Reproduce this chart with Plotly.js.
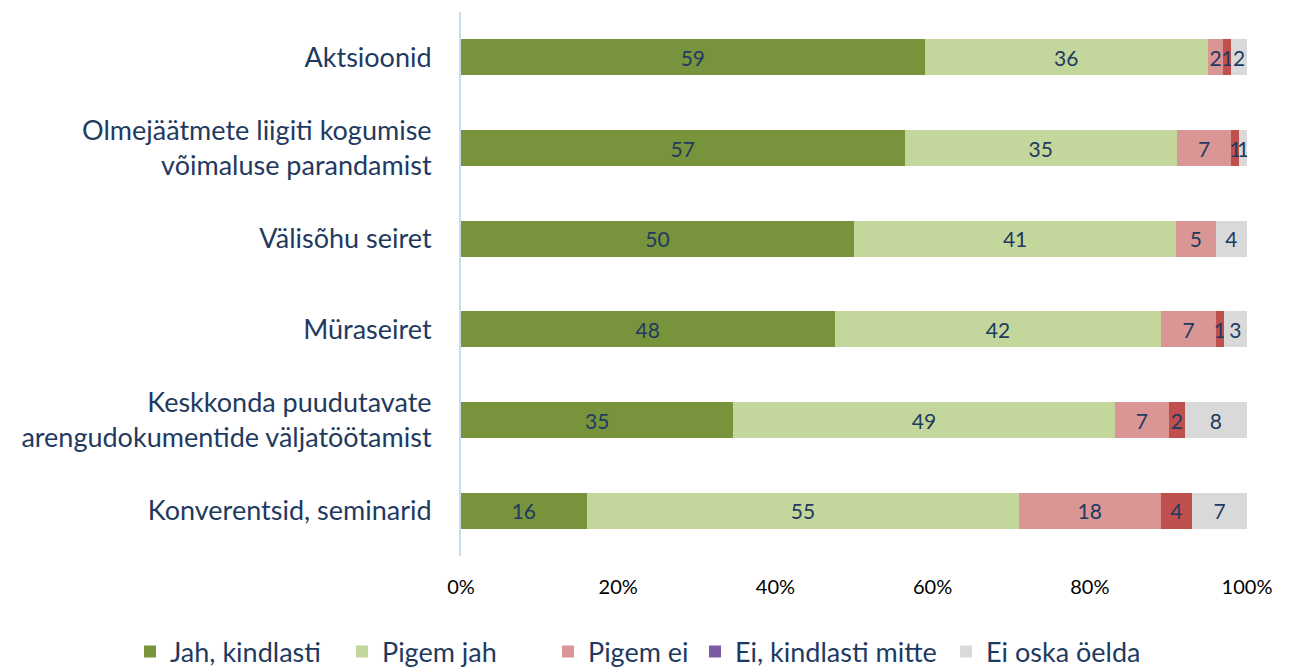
<!DOCTYPE html>
<html>
<head>
<meta charset="utf-8">
<script src="https://cdn.plot.ly/plotly-3.0.1.min.js"></script>
<style>html,body{margin:0;padding:0;background:#fff;}#chart{width:1289px;height:668px;}</style>
</head>
<body>
<div id="chart"></div>
<script>
const categories = [
  "Aktsioonid",
  "Olmejäätmete liigiti kogumise<br>võimaluse parandamist",
  "Välisõhu seiret",
  "Müraseiret",
  "Keskkonda puudutavate<br>arengudokumentide väljatöötamist",
  "Konverentsid, seminarid"
];
const seriesNames = ["Jah, kindlasti", "Pigem jah", "Pigem ei", "Ei, kindlasti mitte", "Ei oska öelda"];
const jahKindlasti = [59, 57, 50, 48, 35, 16];
const pigemJah = [36, 35, 41, 42, 49, 55];
const pigemEi = [2, 7, 5, 7, 7, 18];
const eiKindlastiMitte = [1, 1, 0, 1, 2, 4];
const eiOskaOelda = [2, 1, 4, 3, 8, 7];
const xTickVals = [0, 20, 40, 60, 80, 100];
const xTickText = ["0%", "20%", "40%", "60%", "80%", "100%"];

const fillColors = ["#77933C", "#C3D69B", "#D99694", "#C0504D", "#D9D9D9"];
const legendColors = ["#77933C", "#C3D69B", "#D99694", "#7A5BA6", "#D9D9D9"];
const values = [jahKindlasti, pigemJah, pigemEi, eiKindlastiMitte, eiOskaOelda];
const labelColor = "#1F3A60";
const font = "Lato, 'Open Sans', sans-serif";
const W = 1289, H = 668;
const legendLeftPx = [130, 342, 548, 695, 946];
const legendIds = ["legend", "legend2", "legend3", "legend4", "legend5"];

const traces = [];
values.forEach((vals, i) => {
  traces.push({
    type: "bar",
    orientation: "h",
    name: seriesNames[i],
    y: categories,
    x: vals,
    text: vals.map(v => v === 0 ? "" : String(v)),
    texttemplate: "%{text}",
    textposition: "inside",
    insidetextanchor: "middle",
    constraintext: "none",
    textangle: 0,
    insidetextfont: {family: font, size: 21, color: labelColor},
    marker: {color: fillColors[i], line: {width: 0}},
    showlegend: i !== 3,
    legend: legendIds[i],
    hoverinfo: "skip"
  });
  if (i === 3) {
    traces.push({
      type: "bar",
      orientation: "h",
      name: seriesNames[i],
      y: [null],
      x: [null],
      marker: {color: legendColors[i]},
      showlegend: true,
      legend: legendIds[i],
      hoverinfo: "skip"
    });
  }
});

const layout = {
  width: W,
  height: H,
  barmode: "stack",
  barnorm: "percent",
  bargap: 0.6,
  margin: {l: 461, r: 42, t: 12, b: 112},
  paper_bgcolor: "#ffffff",
  plot_bgcolor: "#ffffff",
  font: {family: font, color: labelColor},
  xaxis: {
    range: [0, 100],
    tickvals: xTickVals,
    ticktext: xTickText,
    showgrid: false,
    zeroline: false,
    showline: false,
    ticks: "",
    tickfont: {family: font, size: 20, color: "#000000"},
    ticklabelstandoff: 17
  },
  yaxis: {
    autorange: "reversed",
    showgrid: false,
    zeroline: false,
    showline: true,
    linecolor: "#C9DAEE",
    linewidth: 2,
    ticks: "",
    tickfont: {family: font, size: 27, color: labelColor},
    ticklabelstandoff: 22
  },
  showlegend: true
};
legendIds.forEach((id, i) => {
  layout[id] = {
    orientation: "h",
    xref: "container",
    yref: "container",
    x: legendLeftPx[i] / W,
    xanchor: "left",
    y: (H - 652) / H,
    yanchor: "middle",
    font: {family: font, size: 27, color: labelColor},
    itemwidth: 30,
    bgcolor: "rgba(0,0,0,0)"
  };
});

Plotly.newPlot("chart", traces, layout, {displayModeBar: false, staticPlot: true});
</script>
</body>
</html>
